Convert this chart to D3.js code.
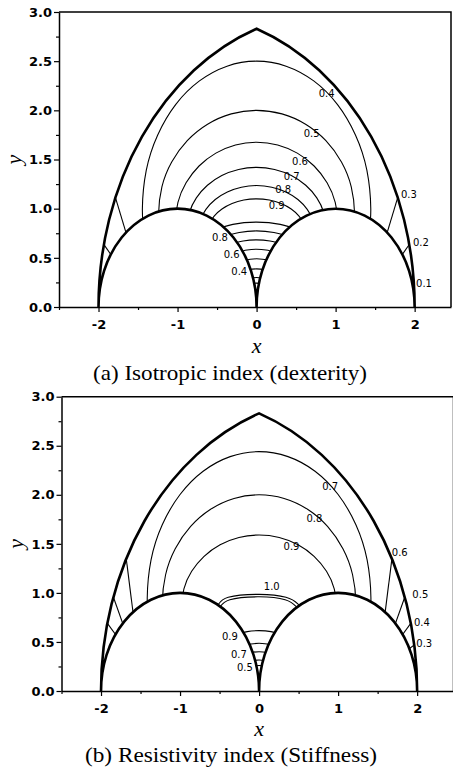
<!DOCTYPE html>
<html>
<head>
<meta charset="utf-8">
<script src="https://cdn.jsdelivr.net/npm/d3@7"></script>
<style>
  body { margin: 0; background: #fff; }
  svg { display: block; }
  .axis .tick text { font-family: "DejaVu Sans", sans-serif; font-weight: bold; font-size: 13px; fill: #000; }
  .axis .domain { stroke: #000; stroke-width: 1.5; }
  .axis .tick line { stroke: #000; stroke-width: 1.2; }
  .clabel { font-family: "DejaVu Sans", sans-serif; font-size: 10px; fill: #000; }
  .title { font-family: "Liberation Serif", "Times New Roman", serif; font-style: italic; font-size: 22px; fill: #000; }
  .caption { font-family: "Liberation Serif", "Times New Roman", serif; font-size: 22px; fill: #000; }
</style>
</head>
<body>
<svg id="chart" width="453" height="768"></svg>
<script>
// ---- axes ----
const xDomain = [-2.5, 2.46];
const yDomain = [0, 3];
const xTickValues = [-2, -1, 0, 1, 2];
const xTickLabels = ["-2", "-1", "0", "1", "2"];
const xMinorTicks = [-2.5, -1.5, -0.5, 0.5, 1.5];
const yTickValues = [0, 0.5, 1, 1.5, 2, 2.5, 3];
const yTickLabels = ["0.0", "0.5", "1.0", "1.5", "2.0", "2.5", "3.0"];
const yMinorTicks = [0.25, 0.75, 1.25, 1.75, 2.25, 2.75];

// ---- workspace boundary (circles centred on the x axis) ----
const outerArcs = [{ cx: 1, r: 3 }, { cx: -1, r: 3 }];
const innerArcs = [{ cx: 1, r: 1 }, { cx: -1, r: 1 }];
const baseXs = [-2, 0, 2];
const apexY = 2.83;

// ---- (a) isotropic index contours ----
const dexContours = [
  { level: 0.4, pts: [[-1.423,0.739],[-1.445,1.0],[-1.396,1.389],[-1.251,1.75],[-1.022,2.061],[-0.723,2.299],[-0.374,2.449],[0,2.5],[0.374,2.449],[0.723,2.299],[1.022,2.061],[1.251,1.75],[1.396,1.389],[1.445,1.0],[1.423,0.739]] },
  { level: 0.5, pts: [[-1.221,0.767],[-1.24,0.95],[-1.198,1.222],[-1.074,1.475],[-0.877,1.692],[-0.62,1.859],[-0.321,1.964],[0,2.0],[0.321,1.964],[0.62,1.859],[0.877,1.692],[1.074,1.475],[1.198,1.222],[1.24,0.95],[1.221,0.767]] },
  { level: 0.6, pts: [[-1.015,0.706],[-1.03,0.85],[-0.995,1.064],[-0.892,1.263],[-0.728,1.434],[-0.515,1.565],[-0.267,1.648],[0,1.676],[0.267,1.648],[0.515,1.565],[0.728,1.434],[0.892,1.263],[0.995,1.064],[1.03,0.85],[1.015,0.706]] },
  { level: 0.7, pts: [[-0.867,0.692],[-0.88,0.8],[-0.85,0.961],[-0.762,1.11],[-0.622,1.238],[-0.44,1.337],[-0.228,1.399],[0,1.42],[0.228,1.399],[0.44,1.337],[0.622,1.238],[0.762,1.11],[0.85,0.961],[0.88,0.8],[0.867,0.692]] },
  { level: 0.8, pts: [[-0.729,0.666],[-0.74,0.75],[-0.715,0.876],[-0.641,0.993],[-0.523,1.093],[-0.37,1.17],[-0.192,1.218],[0,1.235],[0.192,1.218],[0.37,1.17],[0.523,1.093],[0.641,0.993],[0.715,0.876],[0.74,0.75],[0.729,0.666]] },
  { level: 0.9, pts: [[-0.611,0.689],[-0.62,0.75],[-0.599,0.841],[-0.537,0.925],[-0.438,0.997],[-0.31,1.053],[-0.161,1.088],[0,1.1],[0.161,1.088],[0.31,1.053],[0.438,0.997],[0.537,0.925],[0.599,0.841],[0.62,0.75],[0.611,0.689]] }
];
const dexGapArcs = [
  { level: 0.9, pts: [[-0.55,0.78],[-0.3,0.84],[0,0.863],[0.3,0.84],[0.55,0.78]] },
  { level: 0.8, pts: [[-0.45,0.71],[-0.22,0.757],[0,0.774],[0.22,0.757],[0.45,0.71]] },
  { level: 0.7, pts: [[-0.35,0.64],[-0.17,0.672],[0,0.683],[0.17,0.672],[0.35,0.64]] },
  { level: 0.6, pts: [[-0.25,0.555],[-0.12,0.58],[0,0.588],[0.12,0.58],[0.25,0.555]] },
  { level: 0.5, pts: [[-0.18,0.47],[0,0.49],[0.18,0.47]] },
  { level: 0.4, pts: [[-0.12,0.375],[0,0.388],[0.12,0.375]] },
  { level: 0.3, pts: [[-0.08,0.292],[0,0.3],[0.08,0.292]] },
  { level: 0.2, pts: [[-0.06,0.238],[0,0.243],[0.06,0.238]] }
];
const dexEdgeLines = [
  { level: 0.3, pts: [[-1.8,1.15],[-1.635,0.71]] },
  { level: 0.2, pts: [[-1.953,0.661],[-1.827,0.514]] },
  { level: 0.3, pts: [[1.8,1.15],[1.635,0.71]] },
  { level: 0.2, pts: [[1.953,0.661],[1.827,0.514]] }
];
const dexLabels = [
  { text: "0.4", x: 0.887, y: 2.173 }, { text: "0.5", x: 0.697, y: 1.766 },
  { text: "0.6", x: 0.549, y: 1.478 }, { text: "0.7", x: 0.444, y: 1.332 },
  { text: "0.8", x: 0.338, y: 1.197 }, { text: "0.9", x: 0.254, y: 1.037 },
  { text: "0.3", x: 1.928, y: 1.149 }, { text: "0.2", x: 2.08, y: 0.654 },
  { text: "0.1", x: 2.118, y: 0.241 },
  { text: "0.8", x: -0.463, y: 0.705 }, { text: "0.6", x: -0.315, y: 0.536 },
  { text: "0.4", x: -0.219, y: 0.356 }
];

// ---- (b) resistivity index contours ----
const stfContours = [
  { level: 0.7, pts: [[-1.394,0.69],[-1.415,0.95],[-1.367,1.336],[-1.225,1.695],[-1.0,2.003],[-0.708,2.24],[-0.366,2.389],[0,2.44],[0.366,2.389],[0.708,2.24],[1.0,2.003],[1.225,1.695],[1.367,1.336],[1.415,0.95],[1.394,0.69]] },
  { level: 0.8, pts: [[-1.207,0.709],[-1.225,0.9],[-1.183,1.185],[-1.061,1.45],[-0.866,1.678],[-0.613,1.853],[-0.317,1.963],[0,2.0],[0.317,1.963],[0.613,1.853],[0.866,1.678],[1.061,1.45],[1.183,1.185],[1.225,0.9],[1.207,0.709]] },
  { level: 0.9, pts: [[-0.97,0.721],[-0.985,0.85],[-0.951,1.042],[-0.853,1.22],[-0.696,1.373],[-0.493,1.491],[-0.255,1.565],[0,1.59],[0.255,1.565],[0.493,1.491],[0.696,1.373],[0.853,1.22],[0.951,1.042],[0.985,0.85],[0.97,0.721]] },
  { level: 1.0, pts: [[-0.6,0.8],[-0.52,0.877],[-0.39,0.955],[0,0.985],[0.34,0.955],[0.49,0.887],[0.58,0.8]] },
  { level: 1.0, pts: [[-0.58,0.78],[-0.5,0.85],[-0.37,0.93],[0,0.96],[0.33,0.93],[0.47,0.86],[0.56,0.78]] }
];
const stfGapArcs = [
  { level: 0.9, pts: [[-0.3,0.57],[-0.15,0.605],[0,0.615],[0.15,0.605],[0.3,0.57]] },
  { level: 0.8, pts: [[-0.18,0.47],[0,0.486],[0.18,0.47]] },
  { level: 0.7, pts: [[-0.12,0.39],[0,0.4],[0.12,0.39]] },
  { level: 0.6, pts: [[-0.08,0.31],[0,0.316],[0.08,0.31]] },
  { level: 0.5, pts: [[-0.06,0.256],[0,0.26],[0.06,0.256]] }
];
const stfEdgeLines = [
  { level: 0.6, pts: [[-1.689,1.4],[-1.586,0.745]] },
  { level: 0.5, pts: [[-1.862,0.999],[-1.713,0.661]] },
  { level: 0.4, pts: [[-1.94,0.712],[-1.8,0.558]] },
  { level: 0.6, pts: [[1.689,1.4],[1.586,0.745]] },
  { level: 0.5, pts: [[1.862,0.999],[1.713,0.661]] },
  { level: 0.4, pts: [[1.94,0.712],[1.8,0.558]] },
  { level: 0.3, pts: [[1.98,0.48],[1.884,0.42]] }
];
const stfLabels = [
  { text: "0.7", x: 0.9, y: 2.08 }, { text: "0.8", x: 0.7, y: 1.76 },
  { text: "0.9", x: 0.41, y: 1.47 }, { text: "1.0", x: 0.16, y: 1.063 },
  { text: "0.6", x: 1.78, y: 1.41 }, { text: "0.5", x: 2.04, y: 0.98 },
  { text: "0.4", x: 2.06, y: 0.70 }, { text: "0.3", x: 2.09, y: 0.486 },
  { text: "0.9", x: -0.37, y: 0.56 }, { text: "0.7", x: -0.255, y: 0.374 },
  { text: "0.5", x: -0.18, y: 0.24 }
];

// ---- layout of the two panels ----
const panels = [
  { key: "a", xRange: [59, 451], yRange: [307, 12], caption: "(a) Isotropic index (dexterity)",
    capX: [93, 367], capBase: 380, titleOffset: 38,
    contours: dexContours, gaps: dexGapArcs, edges: dexEdgeLines, labels: dexLabels },
  { key: "b", xRange: [61.5, 453.5], yRange: [691, 396.7], caption: "(b) Resistivity index (Stiffness)",
    capX: [85, 377], capBase: 762, titleOffset: 37,
    contours: stfContours, gaps: stfGapArcs, edges: stfEdgeLines, labels: stfLabels }
];

const svg = d3.select("#chart");

function workspacePath(x, y) {
  const kx = x(1) - x(0), ky = y(0) - y(1);
  const [xl, xm, xr] = baseXs;
  const o = outerArcs, i = innerArcs;
  return `M${x(xl)},${y(0)}` +
    `A${o[0].r * kx},${o[0].r * ky} 0 0 1 ${x(xm)},${y(apexY)}` +
    `A${o[1].r * kx},${o[1].r * ky} 0 0 1 ${x(xr)},${y(0)}` +
    `A${i[0].r * kx},${i[0].r * ky} 0 0 0 ${x(xm)},${y(0)}` +
    `A${i[1].r * kx},${i[1].r * ky} 0 0 0 ${x(xl)},${y(0)}Z`;
}

panels.forEach(p => {
  const x = d3.scaleLinear().domain(xDomain).range(p.xRange);
  const y = d3.scaleLinear().domain(yDomain).range(p.yRange);
  const g = svg.append("g");

  // frame (top and right)
  g.append("path")
    .attr("d", `M${x(xDomain[0])},${y(yDomain[1])}H${x(xDomain[1])}V${y(yDomain[0])}`)
    .attr("fill", "none").attr("stroke", "#000").attr("stroke-width", 1.5);

  // axes
  g.append("g").attr("class", "axis").attr("transform", `translate(0,${y(0)})`)
    .call(d3.axisBottom(x).tickValues(xMinorTicks).tickFormat("").tickSize(3).tickSizeOuter(0))
    .call(s => s.select(".domain").remove());
  g.append("g").attr("class", "axis").attr("transform", `translate(0,${y(0)})`)
    .call(d3.axisBottom(x).tickValues(xTickValues).tickFormat((d, i) => xTickLabels[i])
      .tickSize(5).tickPadding(8).tickSizeOuter(0));
  g.append("g").attr("class", "axis").attr("transform", `translate(${x(xDomain[0])},0)`)
    .call(d3.axisLeft(y).tickValues(yMinorTicks).tickFormat("").tickSize(3).tickSizeOuter(0))
    .call(s => s.select(".domain").remove());
  g.append("g").attr("class", "axis").attr("transform", `translate(${x(xDomain[0])},0)`)
    .call(d3.axisLeft(y).tickValues(yTickValues).tickFormat((d, i) => yTickLabels[i])
      .tickSize(5).tickPadding(2).tickSizeOuter(0));

  // clip to the workspace
  const clipId = "ws-" + p.key;
  g.append("clipPath").attr("id", clipId).append("path").attr("d", workspacePath(x, y));

  const smooth = d3.line().x(d => x(d[0])).y(d => y(d[1])).curve(d3.curveNatural);
  const straight = d3.line().x(d => x(d[0])).y(d => y(d[1]));

  const cg = g.append("g").attr("clip-path", `url(#${clipId})`)
    .attr("fill", "none").attr("stroke", "#000").attr("stroke-width", 1.1);
  cg.selectAll("path.c").data(p.contours.concat(p.gaps)).join("path")
    .attr("class", "c").attr("d", d => smooth(d.pts));
  cg.selectAll("path.e").data(p.edges).join("path")
    .attr("class", "e").attr("d", d => straight(d.pts));

  // boundary
  g.append("path").attr("d", workspacePath(x, y))
    .attr("fill", "none").attr("stroke", "#000").attr("stroke-width", 2.6)
    .attr("stroke-linejoin", "miter");

  // contour labels
  g.selectAll("text.clabel").data(p.labels).join("text")
    .attr("class", "clabel")
    .attr("x", d => x(d.x)).attr("y", d => y(d.y))
    .attr("text-anchor", "middle").attr("dominant-baseline", "central")
    .text(d => d.text);

  // axis titles
  g.append("text").attr("class", "title")
    .attr("x", x(0)).attr("y", y(0) + p.titleOffset)
    .attr("text-anchor", "middle").attr("dominant-baseline", "central").text("x");
  const yMid = (y(yDomain[0]) + y(yDomain[1])) / 2;
  g.append("text").attr("class", "title")
    .attr("transform", `translate(${x(xDomain[0]) - 46},${yMid}) rotate(-90)`)
    .attr("text-anchor", "middle").attr("dominant-baseline", "central").text("y");

  // caption
  g.append("text").attr("class", "caption")
    .attr("x", (p.capX[0] + p.capX[1]) / 2).attr("y", p.capBase)
    .attr("text-anchor", "middle")
    .attr("textLength", p.capX[1] - p.capX[0]).attr("lengthAdjust", "spacingAndGlyphs")
    .text(p.caption);
});
</script>
</body>
</html>
